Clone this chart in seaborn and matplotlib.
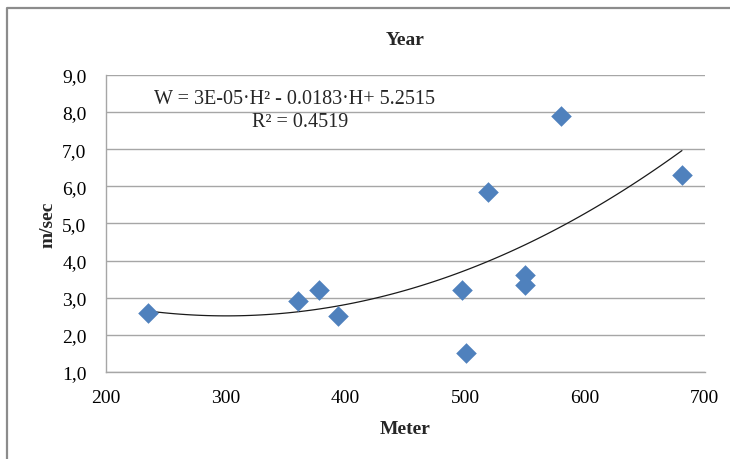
import numpy as np
import pandas as pd
import matplotlib
matplotlib.use("Agg")
import matplotlib.pyplot as plt
from matplotlib.lines import Line2D
from matplotlib.ticker import FuncFormatter
import seaborn as sns

# data
meter = [235, 360, 378, 394, 497, 501, 519, 550, 550, 580, 681]
speed = [2.6, 2.9, 3.2, 2.5, 3.2, 1.5, 5.85, 3.6, 3.35, 7.9, 6.3]
x_ticks = [200, 300, 400, 500, 600, 700]
y_ticks = [1, 2, 3, 4, 5, 6, 7, 8, 9]

df = pd.DataFrame({"Meter": meter, "m/sec": speed})

sns.set_style("white")
plt.rcParams["font.family"] = ["Liberation Serif", "DejaVu Serif"]

fig = plt.figure(figsize=(7.31, 4.60), dpi=100)
ax = fig.add_axes([0.145, 0.189, 0.819, 0.646])

# outer chart border (only left/top visible in the crop)
fig.add_artist(Line2D([0.0095, 0.0095, 0.999], [0.0, 0.98, 0.98], transform=fig.transFigure,
                      color="#8c8c8c", linewidth=1.6, solid_capstyle="butt"))

sns.regplot(data=df, x="Meter", y="m/sec", order=2, ci=None, scatter=False,
            truncate=True, ax=ax, line_kws=dict(color="#1a1a1a", linewidth=0.9))
sns.scatterplot(data=df, x="Meter", y="m/sec", marker="D", s=110, color="#4F81BD",
                edgecolor="#4F81BD", linewidth=0, ax=ax, zorder=3)

ax.set_xlim(200, 700)
ax.set_ylim(1, 9)
ax.set_xticks(x_ticks)
ax.set_yticks(y_ticks)
ax.yaxis.set_major_formatter(FuncFormatter(lambda v, p: f"{v:.1f}".replace(".", ",")))
ax.grid(axis="y", color="#a6a6a6", linewidth=1.0)
ax.set_axisbelow(True)
for side in ["top", "right"]:
    ax.spines[side].set_visible(False)
for side in ["left", "bottom"]:
    ax.spines[side].set_color("#a6a6a6")
    ax.spines[side].set_linewidth(1.0)
ax.tick_params(axis="both", direction="out", length=5, width=1.0, color="#a6a6a6",
               labelsize=14, labelcolor="black", pad=7)
ax.tick_params(axis="y", pad=9)

ax.set_xlabel("Meter", fontsize=14, fontweight="bold", labelpad=10)
ax.set_ylabel("m/sec", fontsize=14, fontweight="bold", labelpad=4)
ax.set_title("Year", fontsize=14, fontweight="bold", pad=22)

ax.text(0.315, 0.92, "W = 3E-05·H² - 0.0183·H+ 5.2515", transform=ax.transAxes,
        ha="center", va="center", fontsize=14.5)
ax.text(0.325, 0.842, "R² = 0.4519", transform=ax.transAxes,
        ha="center", va="center", fontsize=14.5)

fig.savefig("out.png", dpi=100)
